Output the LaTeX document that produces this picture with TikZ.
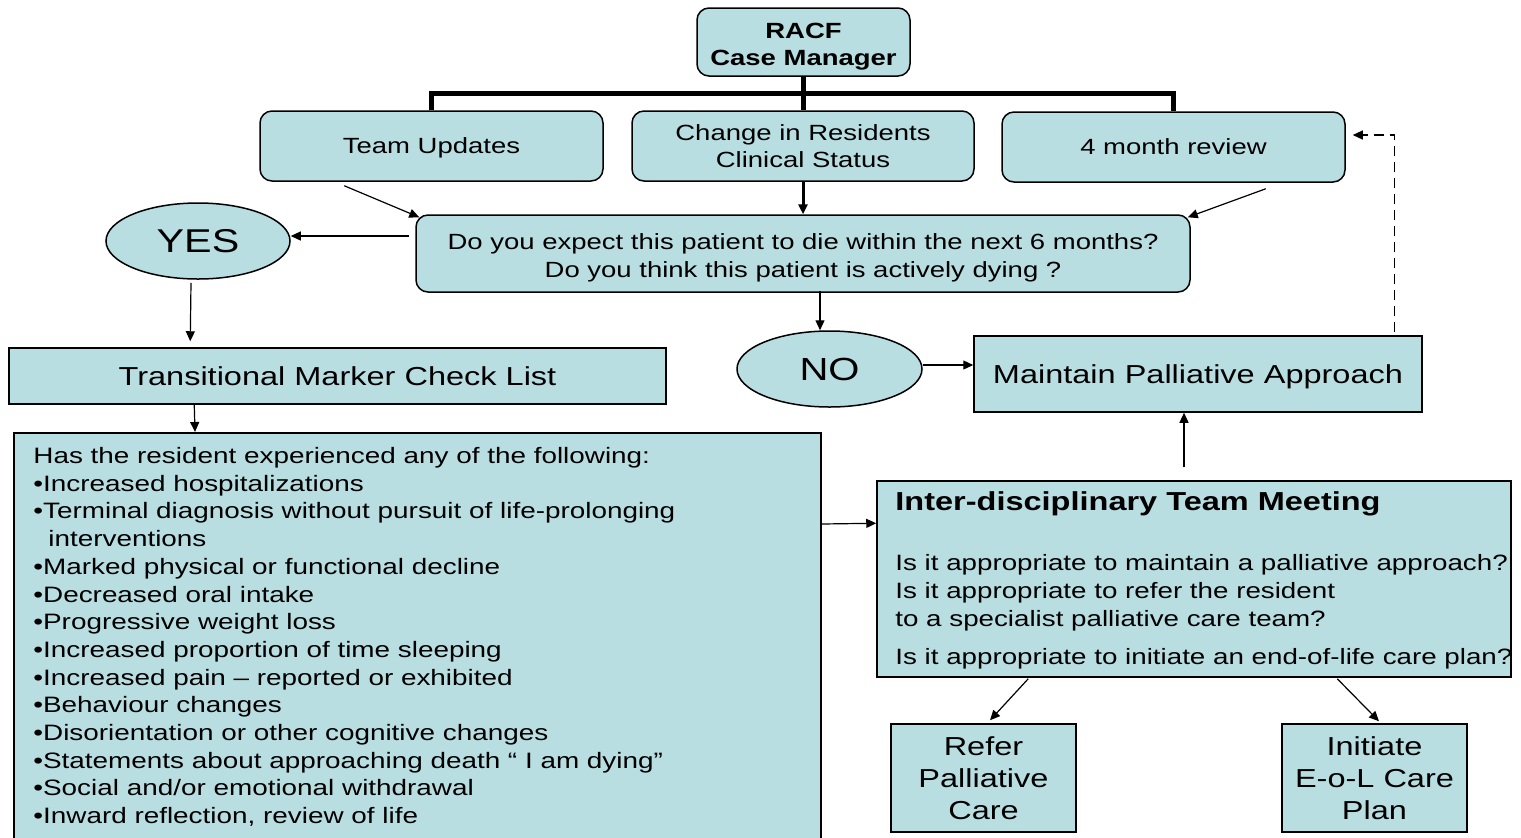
\documentclass[tikz,border=0pt]{standalone}
\usepackage{fontspec}
\setmainfont{Liberation Sans}[FakeStretch=1.25]
\usetikzlibrary{arrows.meta,calc,shapes.geometric}
\definecolor{boxfill}{RGB}{185,222,226}
\newcommand\lowlines[2]{\raisebox{-#1}[\height][\depth]{\begin{tabular}{@{}c@{}}#2\end{tabular}}}
\begin{document}
\begin{tikzpicture}[x=0.5pt,y=-0.5pt,
  box/.style={draw,fill=boxfill,line width=0.75pt,inner sep=0pt,align=center},
  rbox/.style={box,rounded corners=6pt},
  oval/.style={box,ellipse},
  wh/.style 2 args={minimum width=#1*0.5pt,minimum height=#2*0.5pt},
  arr/.style={-{Triangle[length=5pt,width=4.5pt]},line width=0.6pt},
  bus/.style={line width=2.5pt},
  fa/.style={font=\fontsize{11}{13.5}\selectfont},
  fb/.style={font=\fontsize{11}{13.5}\selectfont\bfseries},
  fc/.style={font=\fontsize{13}{16}\selectfont},
  fd/.style={font=\fontsize{16.5}{20}\selectfont},
  dashline/.style={dash pattern=on 5pt off 3pt}]
\useasboundingbox (0,0) rectangle (1521,837);

% boxes
\node[rbox,wh={213}{68},fb] (racf) at (803.5,42) {\lowlines{2.5pt}{RACF\\Case Manager}};
\node[rbox,wh={343}{70},fa,text depth=0pt] (team) at (431.5,146) {Team Updates};
\node[rbox,wh={342}{70},fa] (change) at (803,146) {Change in Residents\\Clinical Status};
\node[rbox,wh={343}{70},fa] (review) at (1173.5,147) {4 month review};
\node[rbox,wh={774}{77},font=\fontsize{11}{14}\selectfont] (q) at (803,253.5)
  {\lowlines{2pt}{Do you expect this patient to die within the next 6 months?\\Do you think this patient is actively dying ?}};
\node[oval,wh={184}{76},fd] (yes) at (198,241) {YES};
\node[box,wh={657}{56},fc] (tm) at (337.5,376) {Transitional Marker Check List};
\node[box,wh={807}{430},anchor=north west] (list) at (13,432) {};
\node[anchor=north west,inner sep=0pt,align=left,font=\fontsize{11.15}{13.85}\selectfont] (listtxt) at (33,447)
  {Has the resident experienced any of the following:\\
   •Increased hospitalizations\\
   •Terminal diagnosis without pursuit of life-prolonging\\
   \hspace*{7.5pt}interventions\\
   •Marked physical or functional decline\\
   •Decreased oral intake\\
   •Progressive weight loss\\
   •Increased proportion of time sleeping\\
   •Increased pain – reported or exhibited\\
   •Behaviour changes\\
   •Disorientation or other cognitive changes\\
   •Statements about approaching death “ I am dying”\\
   •Social and/or emotional withdrawal\\
   •Inward reflection, review of life};
\node[oval,wh={185}{76},font=\fontsize{16}{20}\selectfont] (no) at (829.5,369) {NO};
\node[box,wh={448}{76},fc,text depth=0pt] (maint) at (1198,374) {Maintain Palliative Approach};
\node[box,wh={634}{196}] (idt) at (1194,579) {};
\node[anchor=west,inner sep=0pt,font=\fontsize{13}{16}\selectfont\bfseries] (idttitle) at (895,504)
  {Inter-disciplinary Team Meeting};
\node[anchor=north west,inner sep=0pt,align=left,font=\fontsize{11.1}{14}\selectfont] (idtbody) at (895,554)
  {Is it appropriate to maintain a palliative approach?\\
   Is it appropriate to refer the resident\\
   to a specialist palliative care team?\\[5pt]
   Is it appropriate to initiate an end-of-life care plan?};
\node[box,wh={185}{108},fc] (refer) at (983.5,778) {Refer\\Palliative\\Care};
\node[box,wh={185}{108},fc] (init) at (1374.5,778) {Initiate\\E-o-L Care\\Plan};

% connectors
\draw[bus] (racf.south) -- (racf.south |- change.north);
\draw[bus] (team.north) -- ++(0,-17) -| (review.north);
\draw[arr] ($(team.south west)+(85,4)$) -- ($(q.north west)+(4,3)$);
\draw[arr] ($(review.south east)+(-80,6)$) -- ($(q.north east)+(-3,3)$);
\draw[arr,line width=1.5pt] (change.south) -- (change.south |- q.north);
\coordinate (qy) at ($(q.west)+(-6,-17.5)$);
\draw[arr] (qy) -- (qy -| yes.east);
\draw[arr] ($(yes.south)+(-7,3)$) -- ($(tm.north west)+(182,-6)$);
\draw[arr] ($(tm.south west)+(186,0)$) -- ($(list.north west)+(182,0)$);
\draw[arr] ($(q.south)+(17,-2)$) -- ($(no.north)+(-9.5,0)$);
\draw[arr] ($(no.east)+(0,-4)$) -- ($(maint.west)+(0,-9)$);
\draw[arr,dashline] ($(maint.north east)+(-28,-3)$) |- ($(review.east)+(7,-12)$);
\draw[arr] ($(idt.north)+(-10,-13)$) -- ($(maint.south)+(-14,0)$);
\draw[arr] ($(list.north east)+(0,92)$) -- ($(idt.north west)+(0,43)$);
\draw[arr] ($(idt.south west)+(152,1)$) -- ($(refer.north)+(6.5,-3)$);
\draw[arr] ($(idt.south west)+(461,1)$) -- ($(init.north)+(4.5,-2)$);
\end{tikzpicture}
\end{document}
